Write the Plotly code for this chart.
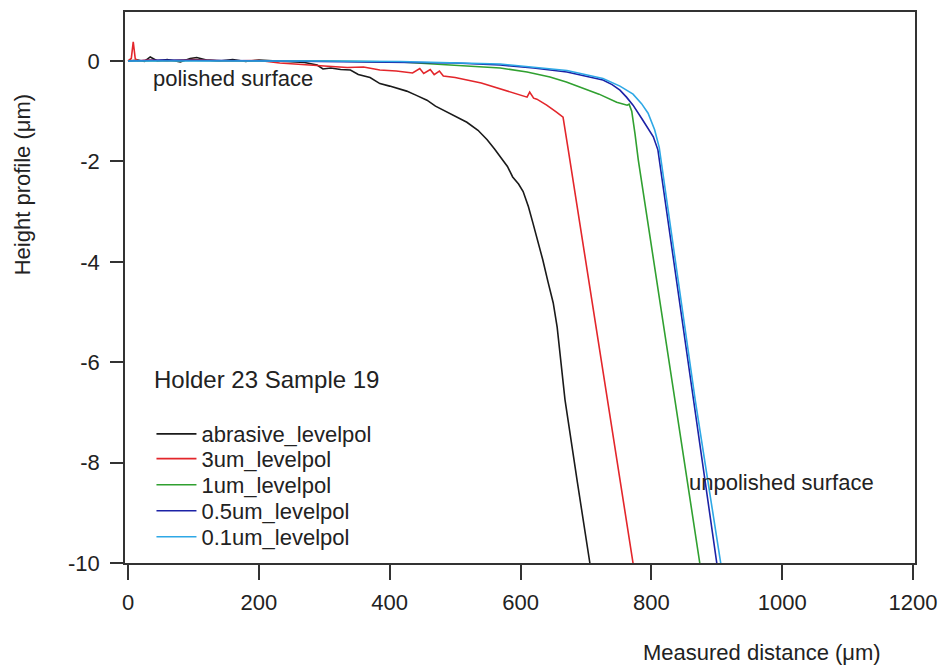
import plotly.graph_objects as go

# ---- data ----
abrasive_x = [0, 15, 25, 34, 45, 60, 80, 95, 105, 120, 140, 160, 180, 200, 228, 250, 270, 289, 298, 310, 325, 340, 352, 370, 385, 400, 415, 426, 440, 457, 470, 488, 503, 518, 535, 549, 560, 569, 580, 588, 597, 604, 612, 619, 627, 634, 642, 650, 656, 660, 668, 687, 706]
abrasive_y = [0, 0.02, -0.01, 0.08, 0.0, 0.03, -0.02, 0.05, 0.07, 0.02, 0.0, 0.03, -0.01, 0.02, 0.0, -0.02, -0.03, -0.08, -0.16, -0.14, -0.17, -0.18, -0.27, -0.33, -0.45, -0.5, -0.56, -0.6, -0.68, -0.78, -0.9, -1.02, -1.12, -1.22, -1.38, -1.57, -1.75, -1.91, -2.1, -2.31, -2.45, -2.6, -2.9, -3.23, -3.6, -3.96, -4.4, -4.82, -5.3, -5.76, -6.75, -8.4, -10]

um3_x = [0, 5, 8, 11, 15, 30, 60, 100, 150, 200, 232, 260, 300, 335, 360, 385, 410, 435, 446, 452, 462, 468, 476, 482, 500, 540, 570, 590, 610, 614, 620, 625, 640, 655, 665, 673, 772]
um3_y = [0, 0.05, 0.38, 0.05, 0, 0.02, 0, 0.03, 0, 0.01, -0.04, -0.06, -0.1, -0.13, -0.12, -0.18, -0.2, -0.24, -0.15, -0.25, -0.17, -0.27, -0.2, -0.3, -0.33, -0.44, -0.56, -0.64, -0.72, -0.62, -0.74, -0.76, -0.88, -1.02, -1.12, -1.77, -10]

um1_x = [0, 100, 200, 300, 416, 488, 530, 569, 610, 645, 670, 696, 720, 747, 763, 766, 770, 775, 780, 836, 874]
um1_y = [0, 0.01, 0.0, 0.0, -0.02, -0.08, -0.1, -0.14, -0.22, -0.32, -0.42, -0.54, -0.66, -0.82, -0.88, -0.86, -1.0, -1.45, -1.97, -6.75, -10]

um05_x = [0, 50, 150, 250, 350, 416, 500, 569, 620, 671, 700, 726, 740, 752, 762, 772, 787, 803, 810, 864, 900]
um05_y = [0, 0.02, 0.01, 0.0, -0.01, -0.02, -0.04, -0.08, -0.14, -0.22, -0.3, -0.38, -0.47, -0.58, -0.72, -0.88, -1.18, -1.51, -1.77, -6.75, -10]

um01_x = [0, 100, 200, 300, 416, 569, 671, 726, 752, 772, 785, 795, 805, 812, 867, 906]
um01_y = [0, 0.0, 0.01, 0.0, -0.01, -0.06, -0.19, -0.35, -0.5, -0.66, -0.85, -1.04, -1.37, -1.72, -6.75, -10]

x_ticks = [0, 200, 400, 600, 800, 1000, 1200]
x_tick_labels = ["0", "200", "400", "600", "800", "1000", "1200"]
y_ticks = [0, -2, -4, -6, -8, -10]
y_tick_labels = ["0", "-2", "-4", "-6", "-8", "-10"]

series_names = ["abrasive_levelpol", "3um_levelpol", "1um_levelpol", "0.5um_levelpol", "0.1um_levelpol"]
series_x = [abrasive_x, um3_x, um1_x, um05_x, um01_x]
series_y = [abrasive_y, um3_y, um1_y, um05_y, um01_y]
series_colors = ["#1a1a1a", "#e3262b", "#30a030", "#1c22a6", "#2ea8e6"]

FONT = "Liberation Sans, Arial, sans-serif"
FS = 22
fig = go.Figure()
legend_keys = ["legend", "legend2", "legend3", "legend4", "legend5"]
legend_rows_y = [0.234, 0.189, 0.1416, 0.0944, 0.0472]
for i in range(5):
    fig.add_trace(go.Scatter(x=series_x[i], y=series_y[i], mode="lines",
                             name=series_names[i], legend=legend_keys[i],
                             line=dict(color=series_colors[i], width=1.6)))

layout_legends = {}
for key, ly in zip(legend_keys, legend_rows_y):
    layout_legends[key] = dict(x=0.0335, y=ly, xanchor="left", yanchor="middle",
                               bgcolor="rgba(0,0,0,0)", font=dict(size=FS, color="#222", family=FONT),
                               itemwidth=40)

fig.update_layout(
    width=938, height=665,
    margin=dict(l=125, r=23, t=12, b=102, autoexpand=False),
    paper_bgcolor="white", plot_bgcolor="white",
    font=dict(family=FONT, size=FS, color="#222"),
    showlegend=True,
    **layout_legends,
)
fig.update_xaxes(range=[-4.6, 1203], tickvals=x_ticks, ticktext=x_tick_labels,
                 ticks="outside", ticklen=15, ticklabelstandoff=4, automargin=False,
                 tickwidth=1.5, tickcolor="#333", showline=True, linecolor="#333",
                 linewidth=1.5, mirror=True, showgrid=False, zeroline=False,
                 tickfont=dict(size=FS, family=FONT))
fig.update_yaxes(range=[-10, 0.976], tickvals=y_ticks, ticktext=y_tick_labels,
                 ticks="outside", ticklen=13, ticklabelstandoff=6, automargin=False,
                 tickwidth=1.5, tickcolor="#333", showline=True, linecolor="#333",
                 linewidth=1.5, mirror=True, showgrid=False, zeroline=False,
                 tickfont=dict(size=FS, family=FONT))

fig.add_annotation(text="Height profile (\u03bcm)", xref="paper", yref="paper",
                   x=-0.130, y=0.686, xanchor="center", yanchor="middle",
                   textangle=-90, showarrow=False, font=dict(size=FS, family=FONT))
fig.add_annotation(text="Measured distance (\u03bcm)", xref="paper", yref="paper",
                   x=0.806, y=-0.163, xanchor="center", yanchor="middle",
                   showarrow=False, font=dict(size=FS, family=FONT))
fig.add_annotation(text="polished surface", x=35, y=-0.34, xanchor="left",
                   showarrow=False, font=dict(size=FS, family=FONT))
fig.add_annotation(text="unpolished surface", x=854, y=-8.39, xanchor="left",
                   showarrow=False, font=dict(size=FS, family=FONT))
fig.add_annotation(text="Holder 23 Sample 19", x=37, y=-6.35, xanchor="left",
                   showarrow=False, font=dict(size=24, family=FONT))

fig.write_html("out.html")
